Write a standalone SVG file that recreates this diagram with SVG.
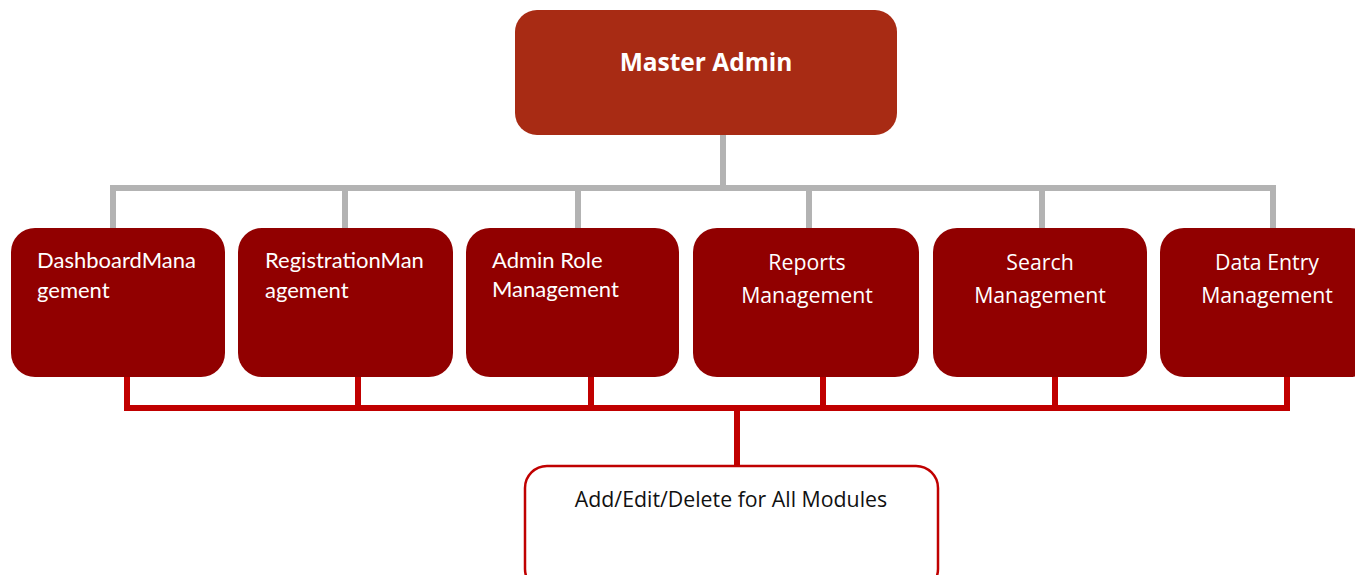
<svg xmlns="http://www.w3.org/2000/svg" width="1355" height="575" viewBox="0 0 1355 575">
<style>
.root{fill:#a82b14}
.box{fill:#910000}
.gs{font-family:Lato,"Liberation Sans",sans-serif;font-size:22px;fill:#ffffff}
.cb{font-family:"Open Sans","Liberation Sans",sans-serif;font-size:21.3px;fill:#ffffff;text-anchor:middle}
.gray{stroke:#b3b3b3;stroke-width:6;fill:none}
.red{stroke:#c00000;stroke-width:6;fill:none}
</style>
<rect width="1355" height="575" fill="#ffffff"/>
<g id="connectors">
<path class="gray" d="M723 135V188M113 228V188H1273V228M345 188V228M578 188V228M809 188V228M1042 188V228"/>
<path class="red" d="M127 377V408H1287V377M358 377V408M591 377V408M823 377V408M1055 377V408M737 408V466"/>
</g>
<g id="master">
<rect class="root" x="515" y="10" width="382" height="125" rx="22"/>
<text x="706" y="71" font-family="'Open Sans','Liberation Sans',sans-serif" font-size="24.5" font-weight="bold" fill="#ffffff" text-anchor="middle">Master Admin</text>
</g>
<g id="dashboard">
<rect class="box" x="11" y="228" width="214" height="149" rx="24"/>
<text class="gs" x="37" y="268">DashboardMana</text>
<text class="gs" x="37" y="298">gement</text>
</g>
<g id="registration">
<rect class="box" x="238" y="228" width="215" height="149" rx="24"/>
<text class="gs" x="265" y="268">RegistrationMan</text>
<text class="gs" x="265" y="298">agement</text>
</g>
<g id="adminrole">
<rect class="box" x="466" y="228" width="213" height="149" rx="24"/>
<text class="gs" x="492" y="268">Admin Role</text>
<text class="gs" x="492" y="297">Management</text>
</g>
<g id="reports">
<rect class="box" x="693" y="228" width="226" height="149" rx="24"/>
<text class="cb" x="807" y="270">Reports</text>
<text class="cb" x="807" y="303">Management</text>
</g>
<g id="search">
<rect class="box" x="933" y="228" width="214" height="149" rx="24"/>
<text class="cb" x="1040" y="270">Search</text>
<text class="cb" x="1040" y="303">Management</text>
</g>
<g id="dataentry">
<rect class="box" x="1160" y="228" width="214" height="149" rx="24"/>
<text class="cb" x="1267" y="270">Data Entry</text>
<text class="cb" x="1267" y="303">Management</text>
</g>
<g id="crud">
<rect x="525" y="466" width="413" height="125" rx="22" fill="#ffffff" stroke="#c00000" stroke-width="2.5"/>
<text x="731" y="507" font-family="'Open Sans','Liberation Sans',sans-serif" font-size="21.3" fill="#111111" text-anchor="middle">Add/Edit/Delete for All Modules</text>
</g>
</svg>
